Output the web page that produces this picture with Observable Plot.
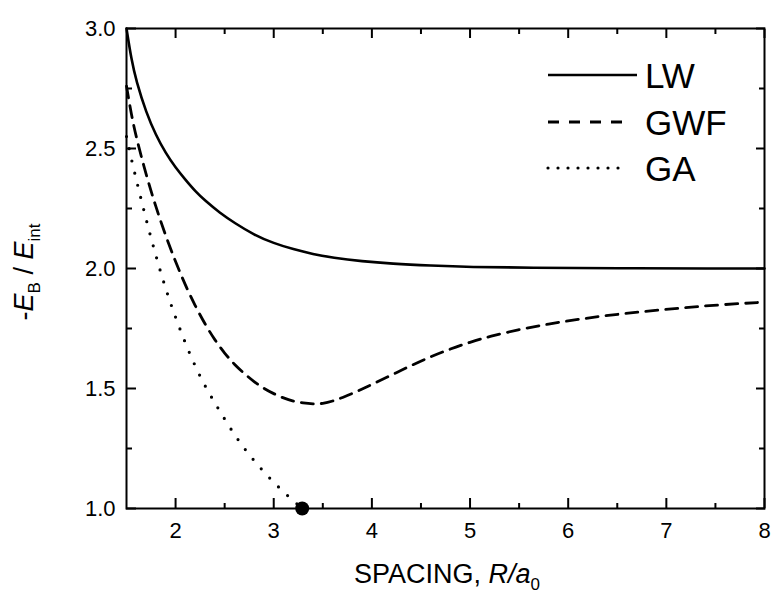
<!DOCTYPE html>
<html><head><meta charset="utf-8">
<script src="https://cdn.jsdelivr.net/npm/d3@7"></script>
<script src="https://cdn.jsdelivr.net/npm/@observablehq/plot@0.6"></script>
<style>
body{margin:0;background:#fff;}
#chart{width:773px;height:597px;}
</style></head><body><div id="chart"></div>
<script>
// LW (solid)
const lwR = [1.5, 1.55, 1.6, 1.7, 1.8, 1.9, 2.0, 2.1, 2.2, 2.3, 2.45, 2.6, 2.8, 3.0, 3.2, 3.4, 3.6, 3.9, 4.2, 4.6, 5.0, 5.6, 6.5, 7.5, 8.0];
const lwV = [3.00, 2.87, 2.78, 2.65, 2.555, 2.48, 2.42, 2.37, 2.322, 2.283, 2.232, 2.19, 2.14, 2.105, 2.08, 2.06, 2.045, 2.03, 2.02, 2.012, 2.006, 2.003, 2.001, 2.0, 2.0];
// GWF (dashed)
const gwfR = [1.5, 1.55, 1.6, 1.7, 1.8, 1.9, 2.0, 2.1, 2.2, 2.3, 2.4, 2.5, 2.6, 2.7, 2.8, 2.9, 3.0, 3.1, 3.2, 3.3, 3.4, 3.5, 3.6, 3.7, 3.85, 4.0, 4.2, 4.4, 4.6, 4.8, 5.0, 5.2, 5.5, 5.8, 6.1, 6.4, 6.75, 7.15, 7.55, 8.0];
const gwfV = [2.76, 2.64, 2.545, 2.39, 2.255, 2.135, 2.027, 1.93, 1.844, 1.768, 1.702, 1.646, 1.6, 1.562, 1.528, 1.50, 1.478, 1.46, 1.447, 1.439, 1.435, 1.437, 1.447, 1.462, 1.488, 1.517, 1.556, 1.596, 1.633, 1.665, 1.693, 1.717, 1.746, 1.769, 1.788, 1.805, 1.82, 1.836, 1.849, 1.86];
// GA (dotted)
const gaR = [1.5, 1.55, 1.6, 1.65, 1.7, 1.75, 1.8, 1.85, 1.9, 1.95, 2.0, 2.1, 2.2, 2.3, 2.4, 2.5, 2.6, 2.7, 2.8, 2.9, 3.0, 3.1, 3.2, 3.29];
const gaV = [2.55, 2.455, 2.37, 2.287, 2.205, 2.127, 2.053, 1.982, 1.916, 1.854, 1.796, 1.688, 1.592, 1.51, 1.44, 1.372, 1.308, 1.25, 1.199, 1.152, 1.109, 1.069, 1.032, 1.00];
// GA end point marker
const endR = [3.29];
const endV = [1.00];

const xMajor = [2, 3, 4, 5, 6, 7, 8];
const xMinor = [2.5, 3.5, 4.5, 5.5, 6.5, 7.5];
const yMajor = [1.0, 1.5, 2.0, 2.5, 3.0];
const yMinor = [1.25, 1.75, 2.25, 2.75];
const legendNames = ["LW", "GWF", "GA"];

const toRows = (R, V) => R.map((r, i) => ({R: r, v: V[i]}));
const lw = toRows(lwR, lwV), gwf = toRows(gwfR, gwfV), ga = toRows(gaR, gaV), endPt = toRows(endR, endV);
const fmt = d3.format(".1f");
const tw = 2;
const ink = "#000";
const ff = "'Liberation Sans', Arial, sans-serif";
const blank = () => "";

const plot = Plot.plot({
  width: 773, height: 597,
  marginLeft: 126, marginRight: 9, marginTop: 28, marginBottom: 89,
  x: {domain: [1.5, 8]},
  y: {domain: [1, 3]},
  style: {fontFamily: ff, fontSize: "22px", color: "#000", background: "#fff"},
  marks: [
    Plot.axisX(xMajor, {anchor: "bottom", tickSize: -10, tickPadding: 24, label: null, fontSize: 22, stroke: ink, strokeWidth: tw, tickFormat: d => String(d)}),
    Plot.axisX(xMinor, {anchor: "bottom", tickSize: -5, label: null, stroke: ink, strokeWidth: tw, tickFormat: blank}),
    Plot.axisX(xMajor, {anchor: "top", tickSize: -9, label: null, stroke: ink, strokeWidth: tw, tickFormat: blank}),
    Plot.axisX(xMinor, {anchor: "top", tickSize: -5, label: null, stroke: ink, strokeWidth: tw, tickFormat: blank}),
    Plot.axisY(yMajor, {anchor: "left", tickSize: -10, tickPadding: 21, label: null, fontSize: 22, stroke: ink, strokeWidth: tw, tickFormat: fmt}),
    Plot.axisY(yMinor, {anchor: "left", tickSize: -6, label: null, stroke: ink, strokeWidth: tw, tickFormat: blank}),
    Plot.axisY(yMajor, {anchor: "right", tickSize: -9, label: null, stroke: ink, strokeWidth: tw, tickFormat: blank}),
    Plot.axisY(yMinor, {anchor: "right", tickSize: -6, label: null, stroke: ink, strokeWidth: tw, tickFormat: blank}),
    Plot.line(lw, {x: "R", y: "v", stroke: ink, strokeWidth: 2.6, curve: "basis"}),
    Plot.line(gwf, {x: "R", y: "v", stroke: ink, strokeWidth: 2.8, strokeDasharray: "12,8", curve: "basis"}),
    Plot.line(ga, {x: "R", y: "v", stroke: ink, strokeWidth: 3.2, strokeDasharray: "0,12.5", strokeLinecap: "round", curve: "basis"}),
    Plot.frame({stroke: ink, strokeWidth: 2}),
    Plot.dot(endPt, {x: "R", y: "v", r: 7, fill: ink, stroke: "none"})
  ]
});
document.getElementById("chart").appendChild(plot);

const svg = d3.select(plot);
// x label
const xl = svg.append("text").attr("x", 447).attr("y", 583).attr("text-anchor", "middle")
  .attr("font-size", 27).attr("font-family", ff).attr("fill", ink);
xl.append("tspan").text("SPACING, ");
xl.append("tspan").attr("font-style", "italic").text("R/a");
xl.append("tspan").attr("font-size", 17).attr("dy", 7).text("0");
// y label
const yl = svg.append("text").attr("transform", "translate(33,272) rotate(-90)").attr("text-anchor", "middle")
  .attr("font-size", 27).attr("font-family", ff).attr("fill", ink);
yl.append("tspan").text("-");
yl.append("tspan").attr("font-style", "italic").text("E");
yl.append("tspan").attr("font-size", 17).attr("dy", 7).text("B");
yl.append("tspan").attr("dy", -7).text("\u00a0/\u00a0");
yl.append("tspan").attr("font-style", "italic").text("E");
yl.append("tspan").attr("font-size", 17).attr("dy", 7).text("int");
// legend
const legY = [75, 122, 168];
const legStyles = [
  {x2: 637, dash: null, w: 2.6, cap: "butt"},
  {x2: 624, dash: "11,10", w: 2.8, cap: "butt"},
  {x2: 628, dash: "0,10", w: 3.2, cap: "round"}
];
legendNames.forEach((name, i) => {
  const s = legStyles[i];
  const ln = svg.append("line").attr("x1", 548).attr("x2", s.x2).attr("y1", legY[i]).attr("y2", legY[i])
    .attr("stroke", ink).attr("stroke-width", s.w).attr("stroke-linecap", s.cap);
  if (s.dash) ln.attr("stroke-dasharray", s.dash);
  svg.append("text").attr("x", 645).attr("y", legY[i] + 12.5).attr("font-size", 35).attr("font-family", ff)
    .attr("text-anchor", "start").attr("fill", ink).text(name);
});
</script>
</body></html>
